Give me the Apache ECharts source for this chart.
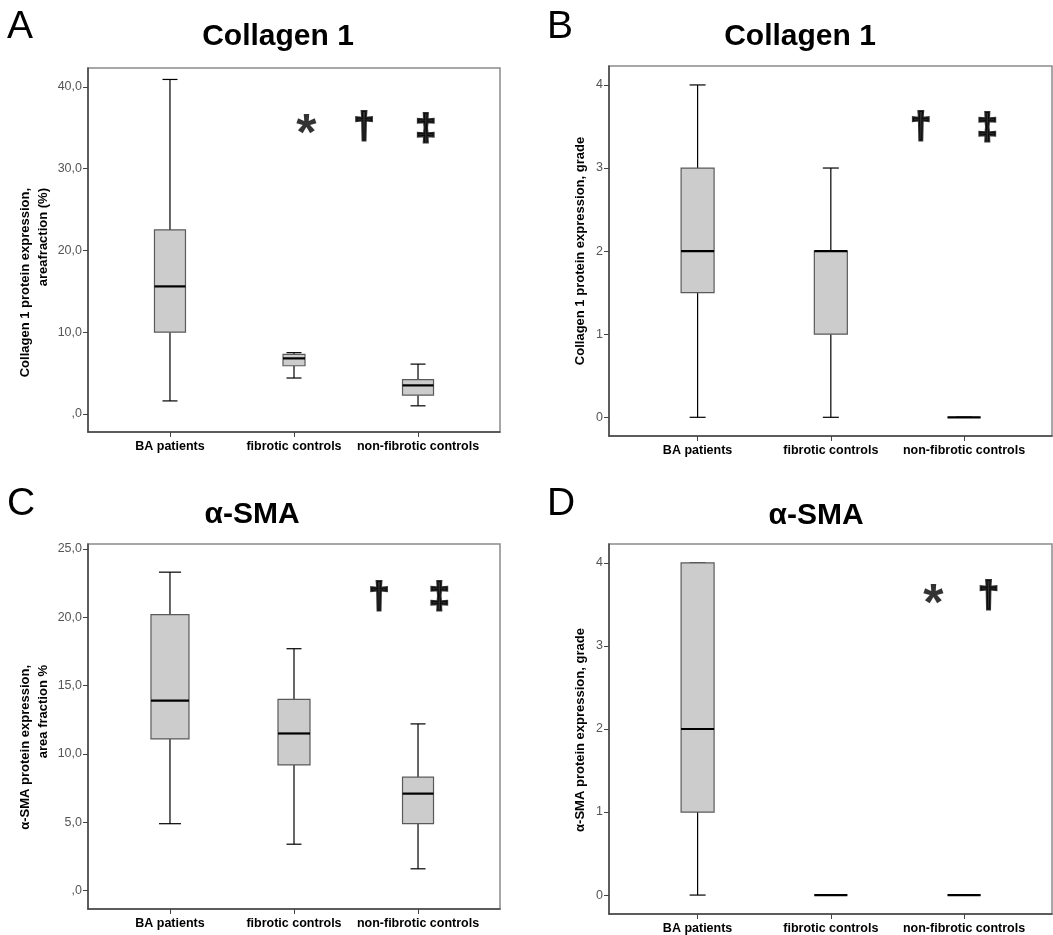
<!DOCTYPE html>
<html><head><meta charset="utf-8">
<script src="https://cdn.jsdelivr.net/npm/echarts@6/dist/echarts.min.js"></script>
<style>html,body{margin:0;padding:0;background:#fff}#c{width:1053px;height:935px}</style>
</head><body><div id="c"></div>
<script>
// ---------- data ----------
const categories = ['BA patients', 'fibrotic controls', 'non-fibrotic controls'];
// [min, Q1, median, Q3, max] per category
const collagenAreaBoxes  = [[1.6, 10.0, 15.6, 22.5, 40.9], [4.4, 5.9, 6.8, 7.3, 7.5], [1.0, 2.3, 3.5, 4.2, 6.1]];
const collagenGradeBoxes = [[0, 1.5, 2, 3, 4], [0, 1, 2, 2, 3], [0, 0, 0, 0, 0]];
const smaAreaBoxes       = [[4.9, 11.1, 13.9, 20.2, 23.3], [3.4, 9.2, 11.5, 14.0, 17.7], [1.6, 4.9, 7.1, 8.3, 12.2]];
const smaGradeBoxes      = [[0, 1, 2, 4, 4], [0, 0, 0, 0, 0], [0, 0, 0, 0, 0]];
// tick values
const collagenAreaTicks = [0, 10, 20, 30, 40];
const gradeTicks        = [0, 1, 2, 3, 4];
const smaAreaTicks      = [0, 5, 10, 15, 20, 25];
// significance marks: [symbol, x (category position), y value]
const collagenAreaMarks  = [['*', 1.10, 35.0], ['†', 1.565, 35.0], ['‡', 2.062, 34.7]];
const collagenGradeMarks = [['†', 1.676, 3.49], ['‡', 2.175, 3.47]];
const smaAreaMarks       = [['†', 1.686, 21.45], ['‡', 2.172, 21.45]];
const smaGradeMarks      = [['*', 1.77, 3.58], ['†', 2.183, 3.59]];

// ---------- layout / style ----------
const FONT = "'Liberation Sans', Arial, sans-serif";
const areaFmt = v => v === 0 ? ',0' : v.toFixed(1).replace('.', ',');
const gradeFmt = v => String(v);

const panels = [
  { letter: 'A', title: 'Collagen 1', titleX: 278, titleY: 37, letterX: 7, letterY: 27,
    grid: { left: 88, top: 68, width: 412, height: 364 }, xr: [-0.661, 2.661], yr: [-2.2, 42.3],
    ticks: collagenAreaTicks, fmt: areaFmt, boxes: collagenAreaBoxes, marks: collagenAreaMarks,
    boxW: [31, 22, 31], capW: [15, 15, 15],
    yName: 'Collagen 1 protein expression,\nareafraction (%)', yNameX: 34, yNameY: 188, yNameAlign: 'right' },
  { letter: 'B', title: 'Collagen 1', titleX: 800, titleY: 37, letterX: 547, letterY: 27,
    grid: { left: 609, top: 66, width: 443, height: 370 }, xr: [-0.665, 2.66], yr: [-0.225, 4.228],
    ticks: gradeTicks, fmt: gradeFmt, boxes: collagenGradeBoxes, marks: collagenGradeMarks,
    boxW: [33, 33, 33], capW: [16, 16, 16],
    yName: 'Collagen 1 protein expression, grade', yNameX: 580, yNameY: 251, yNameAlign: 'center' },
  { letter: 'C', title: 'α-SMA', titleX: 252, titleY: 515, letterX: 7, letterY: 504,
    grid: { left: 88, top: 544, width: 412, height: 365 }, xr: [-0.661, 2.661], yr: [-1.34, 25.36],
    ticks: smaAreaTicks, fmt: areaFmt, boxes: smaAreaBoxes, marks: smaAreaMarks,
    boxW: [38, 32, 31], capW: [22, 15, 15],
    yName: 'α-SMA protein expression,\narea fraction %', yNameX: 34, yNameY: 665, yNameAlign: 'right' },
  { letter: 'D', title: 'α-SMA', titleX: 816, titleY: 516, letterX: 547, letterY: 504,
    grid: { left: 609, top: 544, width: 443, height: 371 }, xr: [-0.665, 2.66], yr: [-0.228, 4.228],
    ticks: gradeTicks, fmt: gradeFmt, boxes: smaGradeBoxes, marks: smaGradeMarks,
    boxW: [33, 33, 33], capW: [16, 16, 16],
    yName: 'α-SMA protein expression, grade', yNameX: 580, yNameY: 730, yNameAlign: 'center' }
];

const markRich = {
  ast: { fontFamily: FONT, fontWeight: 'bold', fontSize: 52, lineHeight: 52, color: '#000',
    padding: [16, 0, 0, 0] },
  dag: { fontFamily: FONT, fontWeight: 'bold', fontSize: 37, lineHeight: 37, color: '#000',
    textBorderColor: '#000', textBorderWidth: 2.2 }
};

const grids = [], xAxes = [], yAxes = [], series = [], graphics = [];

panels.forEach((p, i) => {
  grids.push(Object.assign({ show: true, borderColor: '#8a8a8a', borderWidth: 1.5, backgroundColor: '#fff' }, p.grid));
  xAxes.push({
    type: 'value', gridIndex: i, min: p.xr[0], max: p.xr[1],
    splitLine: { show: false },
    axisLine: { show: true, onZero: false, lineStyle: { color: '#444', width: 1.5 } },
    axisTick: { show: true, length: 5, customValues: [0, 1, 2], lineStyle: { color: '#444' } },
    axisLabel: { customValues: [0, 1, 2], formatter: v => categories[Math.round(v)], margin: 8,
      color: '#000', fontFamily: FONT, fontWeight: 'bold', fontSize: 12.5 }
  });
  yAxes.push({
    type: 'value', gridIndex: i, min: p.yr[0], max: p.yr[1],
    splitLine: { show: false },
    axisLine: { show: true, onZero: false, lineStyle: { color: '#444', width: 1.5 } },
    axisTick: { show: true, length: 5, customValues: p.ticks, lineStyle: { color: '#444' } },
    axisLabel: { customValues: p.ticks, formatter: p.fmt, margin: 6,
      color: '#555', fontFamily: FONT, fontSize: 12.5 }
  });
  const boxW = p.boxW, capW = p.capW;
  series.push({
    type: 'custom', xAxisIndex: i, yAxisIndex: i, clip: false,
    data: p.boxes.map((b, k) => [k].concat(b)),
    encode: { x: 0, y: [1, 2, 3, 4, 5] },
    renderItem: (params, api) => {
      const x = api.value(0);
      const pts = [1, 2, 3, 4, 5].map(d => api.coord([x, api.value(d)]));
      const cx = pts[0][0];
      const bw = boxW[params.dataIndex], cw = capW[params.dataIndex];
      const line = (x1, y1, x2, y2, color, w) => ({ type: 'line', shape: { x1, y1, x2, y2 },
        style: { stroke: color, lineWidth: w } });
      const ch = [];
      ch.push(line(cx, pts[0][1], cx, pts[1][1], '#000', 1.2));
      ch.push(line(cx, pts[3][1], cx, pts[4][1], '#000', 1.2));
      ch.push(line(cx - cw / 2, pts[0][1], cx + cw / 2, pts[0][1], '#000', 1.2));
      ch.push(line(cx - cw / 2, pts[4][1], cx + cw / 2, pts[4][1], '#000', 1.2));
      ch.push({ type: 'rect', shape: { x: cx - bw / 2, y: pts[3][1], width: bw, height: pts[1][1] - pts[3][1] },
        style: { fill: '#cccccc', stroke: '#5a5a5a', lineWidth: 1.2 } });
      ch.push(line(cx - bw / 2, pts[2][1], cx + bw / 2, pts[2][1], '#000', 2.2));
      return { type: 'group', children: ch };
    },
    silent: true, z: 3
  });
  series.push({
    type: 'scatter', xAxisIndex: i, yAxisIndex: i, symbolSize: 0, silent: true, z: 4,
    data: p.marks.map(m => ({ name: m[0], value: [m[1], m[2]] })),
    label: { show: true, position: 'inside', color: '#000',
      formatter: d => (d.name === '*' ? '{ast|' : '{dag|') + d.name + '}',
      rich: markRich }
  });
  graphics.push({ type: 'text', x: p.letterX, y: p.letterY, style: { text: p.letter, fill: '#000',
    font: '39px ' + FONT, align: 'left', verticalAlign: 'middle' } });
  graphics.push({ type: 'text', x: p.titleX, y: p.titleY, style: { text: p.title, fill: '#000',
    font: 'bold 30px ' + FONT, align: 'center', verticalAlign: 'middle' } });
  graphics.push({ type: 'text', x: p.yNameX, y: p.yNameY, rotation: Math.PI / 2,
    style: { text: p.yName, fill: '#000', font: 'bold 13px ' + FONT, lineHeight: 18,
      align: p.yNameAlign, verticalAlign: 'middle' } });
});

const chart = echarts.init(document.getElementById('c'), null, { renderer: 'canvas' });
chart.setOption({
  backgroundColor: '#fff', animation: false,
  grid: grids, xAxis: xAxes, yAxis: yAxes, series: series, graphic: graphics
});
</script></body></html>
